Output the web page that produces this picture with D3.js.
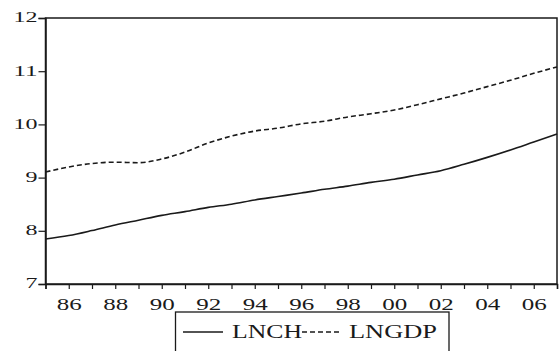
<!DOCTYPE html>
<html><head><meta charset="utf-8">
<script src="https://cdn.jsdelivr.net/npm/d3@7"></script>
<style>body{margin:0;background:#fff}svg{display:block}</style>
</head><body>
<svg id="c" width="559" height="351"></svg>
<script>
const years = d3.range(1985, 2008);
const lnch = [7.845,7.91,8.005,8.11,8.20,8.29,8.36,8.44,8.50,8.58,8.645,8.71,8.78,8.84,8.91,8.97,9.05,9.13,9.25,9.38,9.52,9.67,9.82];
const lngdp = [9.105,9.20,9.265,9.29,9.28,9.35,9.48,9.65,9.78,9.875,9.93,10.01,10.06,10.14,10.20,10.27,10.37,10.48,10.59,10.71,10.83,10.96,11.08];
const xTickYears = [1986,1988,1990,1992,1994,1996,1998,2000,2002,2004,2006];
const xTickLabels = ["86","88","90","92","94","96","98","00","02","04","06"];
const yTicks = [7,8,9,10,11,12];
const seriesNames = ["LNCH","LNGDP"];

const svg = d3.select("#c");
const L=45.5, R=557, T=18, B=284;
const x = d3.scaleLinear().domain([1985,2007]).range([L,R]);
const y = d3.scaleLinear().domain([7,12]).range([B,T]);
const font = "'Liberation Serif','Times New Roman',serif";
const col = "#1a1a1a";

// frame
svg.append("rect").attr("x",L).attr("y",T).attr("width",R-L).attr("height",B-T)
  .attr("fill","none").attr("stroke",col).attr("stroke-width",1.5);

// x axis
const xa = svg.append("g").attr("transform",`translate(0,${B})`)
  .call(d3.axisBottom(x).tickValues(years).tickSize(5).tickFormat(d=>{const i=xTickYears.indexOf(d);return i>=0?xTickLabels[i]:"";}).tickPadding(4));
xa.select(".domain").attr("stroke",col).attr("stroke-width",1.5);
xa.selectAll(".tick line").attr("stroke",col).attr("stroke-width",1.2);
xa.selectAll(".tick text").attr("font-family",font).attr("font-size",16.5).attr("fill",col)
  .attr("dy","1.05em")
  .each(function(){ if(this.textContent) { d3.select(this).attr("textLength",25).attr("lengthAdjust","spacingAndGlyphs"); } });

// y axis
const ya = svg.append("g").attr("transform",`translate(${L},0)`)
  .call(d3.axisLeft(y).tickValues(yTicks).tickSize(7).tickPadding(1).tickFormat(d3.format("d")));
ya.select(".domain").attr("stroke",col).attr("stroke-width",1.5);
ya.selectAll(".tick line").attr("stroke",col).attr("stroke-width",1.2);
ya.selectAll(".tick text").attr("font-family",font).attr("font-size",15.5).attr("fill",col)
  .attr("dy","0.25em")
  .each(function(){ const n=this.textContent.length; d3.select(this).attr("textLength",n*12).attr("lengthAdjust","spacingAndGlyphs"); });

// lines
const line = d3.line().x((d,i)=>x(years[i])).y(d=>y(d)).curve(d3.curveMonotoneX);
svg.append("path").datum(lnch).attr("d",line).attr("fill","none").attr("stroke",col).attr("stroke-width",1.6);
svg.append("path").datum(lngdp).attr("d",line).attr("fill","none").attr("stroke",col).attr("stroke-width",1.6)
  .attr("stroke-dasharray","5,3");

// legend
const lg = svg.append("g");
lg.append("rect").attr("x",175.5).attr("y",312).attr("width",273.5).attr("height",60)
  .attr("fill","none").attr("stroke",col).attr("stroke-width",1.3);
lg.append("line").attr("x1",183).attr("x2",223).attr("y1",332).attr("y2",332).attr("stroke",col).attr("stroke-width",1.6);
lg.append("text").attr("x",232).attr("y",338).text(seriesNames[0]).attr("font-family",font).attr("font-size",18).attr("fill",col)
  .attr("textLength",70).attr("lengthAdjust","spacingAndGlyphs");
lg.append("line").attr("x1",302).attr("x2",341).attr("y1",332).attr("y2",332).attr("stroke",col).attr("stroke-width",1.6).attr("stroke-dasharray","5,3");
lg.append("text").attr("x",349).attr("y",338).text(seriesNames[1]).attr("font-family",font).attr("font-size",18).attr("fill",col)
  .attr("textLength",88).attr("lengthAdjust","spacingAndGlyphs");
</script>
</body></html>
